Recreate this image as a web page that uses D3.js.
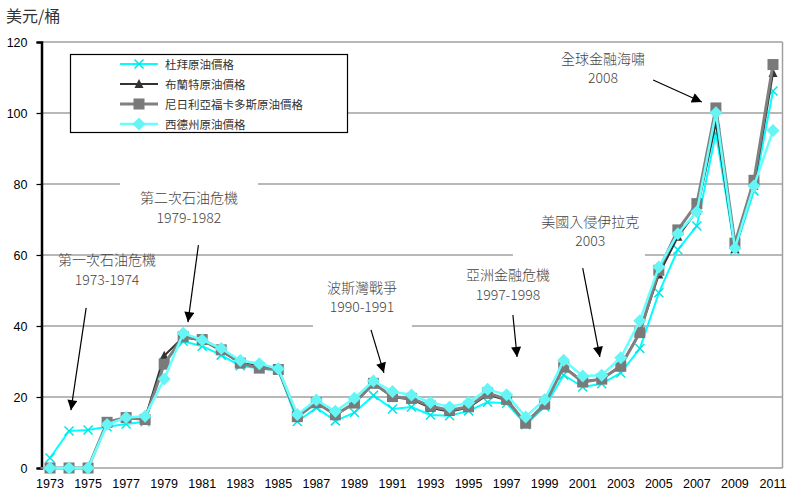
<!DOCTYPE html>
<html><head><meta charset="utf-8">
<script src="https://cdn.jsdelivr.net/npm/d3@7"></script>
<style>
html,body{margin:0;padding:0;background:#fff;}
svg{display:block;}
</style>
</head><body>
<svg id="c" width="790" height="492"></svg>
<script>
const years = d3.range(1973, 2012);
const yTicks = [0, 20, 40, 60, 80, 100, 120];
const xTickLabels = d3.range(1973, 2012, 2);

const seriesNames = ["杜拜原油價格", "布蘭特原油價格", "尼日利亞福卡多斯原油價格", "西德州原油價格"];

const dubai = [2.83,10.41,10.70,11.63,12.38,13.03,29.75,35.69,34.32,31.80,28.78,28.06,27.53,13.10,16.95,13.27,15.62,20.45,16.63,17.17,14.93,14.74,16.10,18.52,18.23,12.21,17.25,26.20,22.81,23.74,26.78,33.64,49.35,61.50,68.19,94.34,61.39,78.06,106.18];
const brent = [0,0,0,12.80,13.92,14.02,31.61,36.83,35.93,32.97,29.55,28.78,27.56,14.43,18.44,14.92,18.23,23.73,20.00,19.32,16.97,15.82,17.02,20.67,19.09,12.72,17.97,28.50,24.44,25.02,28.83,38.27,54.52,65.14,72.39,97.26,61.67,79.50,111.26];
const nigeria = [0,0,0,12.87,14.21,13.65,29.25,36.98,36.18,33.29,29.54,28.14,27.75,14.46,18.39,15.00,18.30,23.85,20.11,19.61,17.41,16.25,17.26,21.16,19.33,12.62,18.00,28.42,24.23,25.04,28.66,38.13,55.69,67.07,74.48,101.43,63.35,81.05,113.65];
const wti = [0,0,0,12.23,14.22,14.55,25.08,37.96,36.08,33.65,30.30,29.39,27.98,15.10,19.18,15.97,19.68,24.50,21.54,20.57,18.45,17.21,18.42,22.16,20.61,14.39,19.31,30.37,25.93,26.16,31.07,41.49,56.59,66.02,72.20,100.06,61.92,79.45,95.04];

const annTexts = [["第一次石油危機","1973-1974"],["第二次石油危機","1979-1982"],["波斯灣戰爭","1990-1991"],["亞洲金融危機","1997-1998"],["美國入侵伊拉克","2003"],["全球金融海嘯","2008"]];
// label centre (year, value of 1st line, value of 2nd line), arrow from/to (year,value)
const annLabel = [[1976.0,58.6,53.0],[1980.3,76.1,70.4],[1989.4,50.7,45.4],[1997.07,54.4,48.7],[2001.4,69.3,63.9],[2002.07,115.2,109.9]];
const annArrow = [[1974.9,45.1,1974.1,16.3],[1980.8,62.8,1980.25,41.1],[1989.87,38.9,1990.55,26.8],[1997.33,43.1,1997.55,31.3],[2001.0,56.3,2001.9,31.3],[2004.7,109.3,2007.26,103.1]];
// white label box extents: [year from, year to, value top, value bottom]
const annMask = [null,[1976.68,1983.93,81.5,64],[1986.82,1992.02,56,39.3],null,[1997.33,2004.27,74,59],null];

(function () {
const svg = d3.select("#c");
const pL = 40.5, pR = 782.5, pT = 42, pB = 468;

const x = d3.scaleBand().domain(years).range([pL, pR]);
const xc = d => x(d) + x.bandwidth() / 2;
const xl = d3.scaleLinear().domain([1973, 2011]).range([xc(1973), xc(2011)]);
const y = d3.scaleLinear().domain([0, 120]).range([pB, pT]);

const defs = svg.append("defs");
defs.append("marker").attr("id","arr").attr("viewBox","0 0 10 10").attr("refX",10).attr("refY",5)
  .attr("markerWidth",11).attr("markerHeight",10).attr("markerUnits","userSpaceOnUse").attr("orient","auto")
  .append("path").attr("d","M0,0L10,5L0,10z").attr("fill","#000");

// gridlines
svg.append("g").selectAll("line").data(yTicks.filter(d => d > 0)).join("line")
  .attr("x1", pL).attr("x2", pR).attr("y1", d => y(d)).attr("y2", d => y(d))
  .attr("stroke", "#a0a0a0").attr("stroke-width", 1.5);
svg.append("line").attr("x1", pR).attr("x2", pR).attr("y1", pT).attr("y2", pB)
  .attr("stroke", "#a0a0a0").attr("stroke-width", 1.5);

// annotation masks (white boxes)
const annG = svg.append("g");
annMask.forEach(m => {
  if (!m) return;
  annG.append("rect").attr("x", xl(m[0])).attr("y", y(m[2])).attr("width", xl(m[1]) - xl(m[0]))
    .attr("height", y(m[3]) - y(m[2])).attr("fill", "#fff");
});

// y axis
const yAxis = svg.append("g").attr("transform", `translate(${pL + 1},0)`)
  .call(d3.axisLeft(y).tickValues(yTicks).tickSize(5).tickPadding(9));
yAxis.select(".domain").attr("stroke", "#000").attr("stroke-width", 2.5);
yAxis.selectAll(".tick line").attr("stroke", "#000").attr("stroke-width", 1.2);
yAxis.selectAll("text").attr("font-family", "'Liberation Sans', Arial, sans-serif").attr("font-size", 12.5).attr("fill", "#000");

// x axis
svg.append("line").attr("x1", pL).attr("x2", pR).attr("y1", pB).attr("y2", pB)
  .attr("stroke", "#a0a0a0").attr("stroke-width", 1.5);
svg.append("g").selectAll("text").data(xTickLabels).join("text")
  .attr("x", d => xc(d)).attr("y", 488).attr("text-anchor", "middle")
  .attr("font-family", "'Liberation Sans', Arial, sans-serif").attr("font-size", 12.5).attr("fill", "#000")
  .text(d => d);

// y title
svg.append("text").attr("x", 6).attr("y", 22).text("美元/桶")
  .attr("font-family", "'Noto Sans CJK TC', sans-serif").attr("font-size", 16).attr("fill", "#333");

// annotations
annTexts.forEach((t, i) => {
  const [yr, v1, v2] = annLabel[i];
  const cx = xl(yr);
  [t[0], t[1]].forEach((s, j) => {
    annG.append("text").attr("x", cx).attr("y", y(j ? v2 : v1) + 5).attr("text-anchor", "middle")
      .attr("font-family", "'Noto Sans CJK TC', sans-serif").attr("font-size", 14).attr("fill", "#444")
      .attr("font-weight", 300).text(s);
  });
  const a = annArrow[i];
  annG.append("line").attr("x1", xl(a[0])).attr("y1", y(a[1])).attr("x2", xl(a[2])).attr("y2", y(a[3]))
    .attr("stroke", "#000").attr("stroke-width", 1.2).attr("marker-end", "url(#arr)");
});

const series = [
  {name: seriesNames[0], values: dubai, color: "#00ffff", width: 2, marker: "x", mcolor: "#00e5e5"},
  {name: seriesNames[1], values: brent, color: "#333333", width: 2, marker: "tri", mcolor: "#333333"},
  {name: seriesNames[2], values: nigeria, color: "#808080", width: 3, marker: "sq", mcolor: "#7a7a7a"},
  {name: seriesNames[3], values: wti, color: "#66ffff", width: 2.5, marker: "dia", mcolor: "#66f5f5"}
];

function drawMarker(g, type, cx, cy, color) {
  if (type === "x") {
    g.append("path").attr("d", `M${cx-4.5},${cy-4.5}L${cx+4.5},${cy+4.5}M${cx-4.5},${cy+4.5}L${cx+4.5},${cy-4.5}`)
      .attr("stroke", color).attr("stroke-width", 1.5).attr("fill", "none");
  } else if (type === "tri") {
    g.append("path").attr("d", `M${cx},${cy-5}L${cx+4.5},${cy+4}L${cx-4.5},${cy+4}Z`).attr("fill", color);
  } else if (type === "sq") {
    g.append("rect").attr("x", cx-5.5).attr("y", cy-5.5).attr("width", 11).attr("height", 11).attr("fill", color);
  } else {
    g.append("path").attr("d", `M${cx},${cy-6.5}L${cx+6.5},${cy}L${cx},${cy+6.5}L${cx-6.5},${cy}Z`).attr("fill", color);
  }
}

const line = d3.line().x((d, i) => xc(years[i])).y(d => y(d));
series.forEach(s => {
  const g = svg.append("g");
  g.append("path").attr("d", line(s.values)).attr("fill", "none").attr("stroke", s.color)
    .attr("stroke-width", s.width).attr("stroke-linejoin", "round");
  s.values.forEach((v, i) => drawMarker(g, s.marker, xc(years[i]), y(v), s.mcolor));
});

// legend
const lg = svg.append("g");
lg.append("rect").attr("x", 70.5).attr("y", 54.5).attr("width", 277).attr("height", 78)
  .attr("fill", "#fff").attr("stroke", "#000").attr("stroke-width", 1.2);
series.forEach((s, i) => {
  const ly = 64 + i * 20;
  lg.append("line").attr("x1", 120).attr("x2", 158).attr("y1", ly).attr("y2", ly)
    .attr("stroke", s.color).attr("stroke-width", s.width);
  drawMarker(lg, s.marker, 139, ly, s.mcolor);
  lg.append("text").attr("x", 165).attr("y", ly + 4.5).text(s.name)
    .attr("font-family", "'Noto Sans CJK TC', sans-serif").attr("font-size", 11.5).attr("fill", "#333");
});
})();
</script>
</body></html>
